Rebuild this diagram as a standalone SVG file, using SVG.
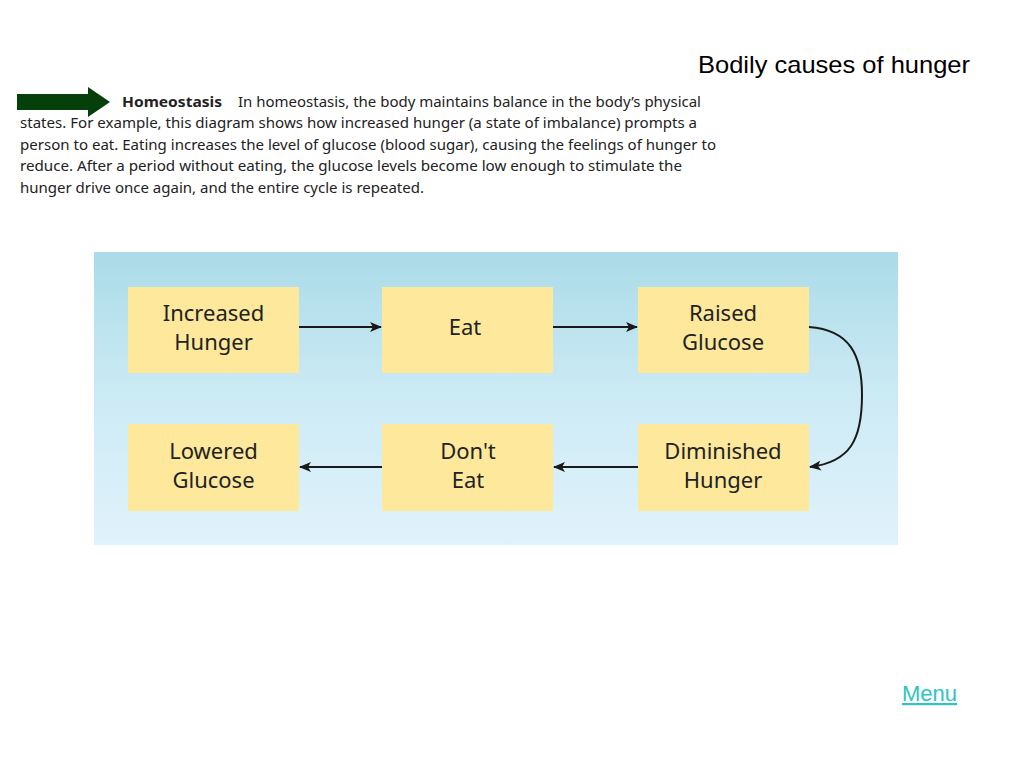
<svg xmlns="http://www.w3.org/2000/svg" width="1024" height="768" viewBox="0 0 1024 768">
<defs>
<linearGradient id="bg" x1="0" y1="0" x2="0" y2="1">
<stop offset="0" stop-color="#aadbe8"/>
<stop offset="0.5" stop-color="#cdebf5"/>
<stop offset="1" stop-color="#e0f2fb"/>
</linearGradient>
<marker id="ah" viewBox="0 0 12 10" refX="11" refY="5" markerWidth="12" markerHeight="10" markerUnits="userSpaceOnUse" orient="auto">
<path d="M0,0 L12,5 L0,10 L3,5 Z" fill="#1a1a1a"/>
</marker>
</defs>
<style>
.para{font-family:"Noto Sans","Open Sans",sans-serif;font-size:14.5px;fill:#222}
.node rect{fill:#fde89c}
.node text{font-family:"Noto Sans","Open Sans",sans-serif;font-size:22px;fill:#222;text-anchor:middle}
.conn{stroke:#1a1a1a;stroke-width:2;fill:none;marker-end:url(#ah)}
</style>
<rect width="1024" height="768" fill="#fff"/>
<text x="698" y="73" textLength="272" lengthAdjust="spacingAndGlyphs" font-family="Liberation Sans, Arial, sans-serif" font-size="24" fill="#000">Bodily causes of hunger</text>
<path d="M17,94 H88 V87 L110,102 L88,117 V110 H17 Z" fill="#053f0a"/>
<g class="para">
<text x="122" y="107" textLength="100" lengthAdjust="spacingAndGlyphs" font-weight="bold">Homeostasis</text>
<text x="238" y="107" textLength="463" lengthAdjust="spacingAndGlyphs">In homeostasis, the body maintains balance in the body’s physical</text>
<text x="20" y="128" textLength="677" lengthAdjust="spacingAndGlyphs">states. For example, this diagram shows how increased hunger (a state of imbalance) prompts a</text>
<text x="20" y="150" textLength="696" lengthAdjust="spacingAndGlyphs">person to eat. Eating increases the level of glucose (blood sugar), causing the feelings of hunger to</text>
<text x="20" y="171" textLength="662" lengthAdjust="spacingAndGlyphs">reduce. After a period without eating, the glucose levels become low enough to stimulate the</text>
<text x="20" y="193" textLength="404" lengthAdjust="spacingAndGlyphs">hunger drive once again, and the entire cycle is repeated.</text>
</g>
<rect x="94" y="252" width="804" height="293" fill="url(#bg)"/>
<g id="n1" class="node"><rect x="128" y="287" width="171" height="86"/><text x="213.5" y="321">Increased</text><text x="213.5" y="350">Hunger</text></g>
<g id="n2" class="node"><rect x="382" y="287" width="171" height="86"/><text x="465" y="335">Eat</text></g>
<g id="n3" class="node"><rect x="638" y="287" width="171" height="86"/><text x="723" y="321">Raised</text><text x="723" y="350">Glucose</text></g>
<g id="n4" class="node"><rect x="638" y="424" width="171" height="87"/><text x="723" y="459">Diminished</text><text x="723" y="488">Hunger</text></g>
<g id="n5" class="node"><rect x="382" y="424" width="171" height="87"/><text x="468" y="459">Don't</text><text x="468" y="488">Eat</text></g>
<g id="n6" class="node"><rect x="128" y="424" width="171" height="87"/><text x="213.5" y="459">Lowered</text><text x="213.5" y="488">Glucose</text></g>
<g id="connectors">
<path class="conn" d="M299,327 H381"/>
<path class="conn" d="M553,327 H637"/>
<path class="conn" d="M809,327 C850,330 862,355 862,395 C862,440 850,462 810,467"/>
<path class="conn" d="M638,467 H554"/>
<path class="conn" d="M382,467 H300"/>
</g>
<text x="902" y="701" font-family="Liberation Sans, Arial, sans-serif" font-size="22" fill="#2ec4c4" text-decoration="underline">Menu</text>
</svg>
